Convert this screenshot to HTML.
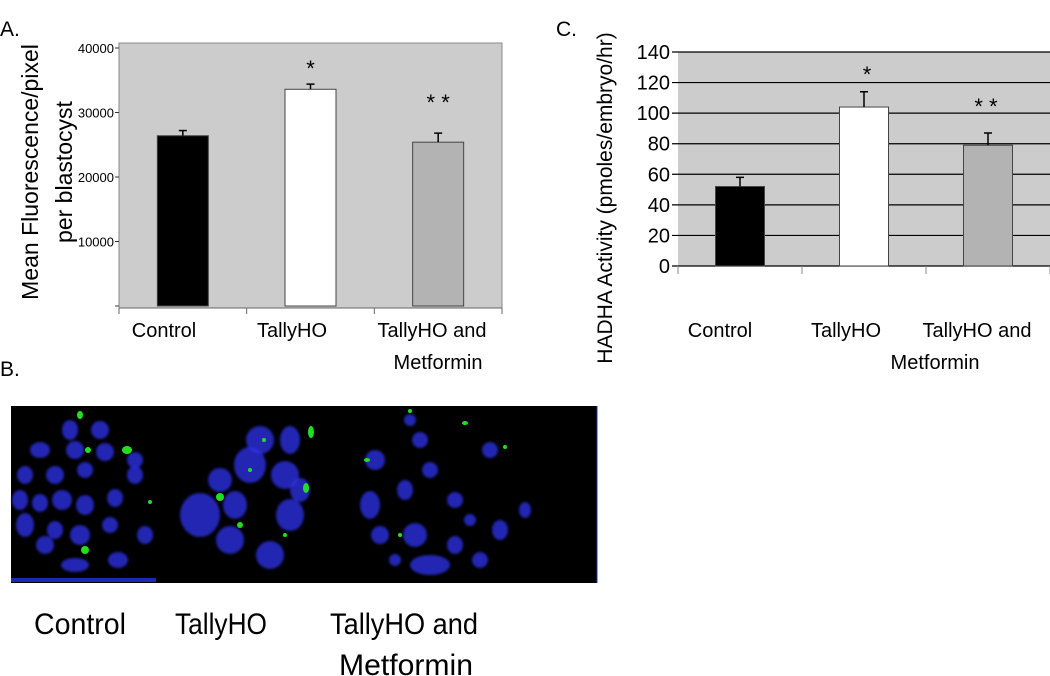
<!DOCTYPE html>
<html><head><meta charset="utf-8">
<style>
html,body{margin:0;padding:0;background:#fff;}
svg{display:block;font-family:"Liberation Sans",sans-serif;}
</style></head>
<body>
<svg id="fig" width="1050" height="676" viewBox="0 0 1050 676">
  <defs><filter id="bl" x="-20%" y="-20%" width="140%" height="140%"><feGaussianBlur stdDeviation="1.2"/></filter></defs>
  <text x="0" y="36" font-size="21">A.</text>
  <text x="556" y="36" font-size="21">C.</text>
  <text x="0" y="376" font-size="21">B.</text>
  <g id="chartA"></g>
  <g id="chartC"></g>
  <g id="micro"></g>
  <text x="80" y="634" font-size="30" text-anchor="middle" textLength="92" lengthAdjust="spacingAndGlyphs">Control</text>
  <text x="221" y="634" font-size="30" text-anchor="middle" textLength="92" lengthAdjust="spacingAndGlyphs">TallyHO</text>
  <text x="404" y="634" font-size="30" text-anchor="middle" textLength="148" lengthAdjust="spacingAndGlyphs">TallyHO and</text>
  <text x="406" y="675" font-size="30" text-anchor="middle" textLength="134" lengthAdjust="spacingAndGlyphs">Metformin</text>
</svg>
<script>
const NS="http://www.w3.org/2000/svg";
function mk(parent,tag,attrs,text){const e=document.createElementNS(NS,tag);for(const k in attrs)e.setAttribute(k,attrs[k]);if(text!==undefined)e.textContent=text;parent.appendChild(e);return e;}

// ---- Chart A data ----
const catsA=["Control","TallyHO","TallyHO and|Metformin"];
const valsA=[26400,33600,25400];
const errA=[800,800,1400];
const starsA=["","*","**"];
const ticksA=[10000,20000,30000,40000];
const fillsA=["#000000","#ffffff","#b3b3b3"];

// ---- Chart C data ----
const catsC=["Control","TallyHO","TallyHO and|Metformin"];
const valsC=[52,104,79];
const errC=[6,10,8];
const starsC=["","*","**"];
const ticksC=[0,20,40,60,80,100,120,140];
const fillsC=["#000000","#ffffff","#b3b3b3"];

// Chart A
(function(){
  const g=document.getElementById('chartA');
  const L=119,R=502,T=43,B=306;
  const sy=v=>B-v*(258/40000);
  const bg=mk(g,'rect',{x:L,y:T,width:R-L,height:B-T+2,fill:'#cccccc',stroke:'#888',"stroke-width":1});
  
  mk(g,'line',{x1:L-4,y1:B,x2:L,y2:B,stroke:'#333'});
  mk(g,'line',{x1:L,y1:B+2,x2:R,y2:B+2,stroke:'#666'});
  ticksA.forEach(t=>{
    const yy=sy(t);
    mk(g,'line',{x1:L-4,y1:yy,x2:L,y2:yy,stroke:'#333'});
    const tl=mk(g,'text',{x:L-5,y:yy+5,"font-size":13,"text-anchor":"end"},String(t));
    
  });
  const bw=(R-L)/catsA.length;
  for(let i=0;i<=catsA.length;i++) mk(g,'line',{x1:L+i*bw,y1:B+2,x2:L+i*bw,y2:B+8,stroke:'#666'});
  const labX=[164,292,432];
  catsA.forEach((c,i)=>{
    const cx=L+bw*(i+0.5), w=51;
    const r=mk(g,'rect',{x:cx-w/2,y:sy(valsA[i]),width:w,height:B-sy(valsA[i]),fill:fillsA[i],stroke:'#444',"stroke-width":1});
    
    const ye=sy(valsA[i]+errA[i]);
    mk(g,'line',{x1:cx,y1:sy(valsA[i]),x2:cx,y2:ye,stroke:'#000',"stroke-width":1.5});
    mk(g,'line',{x1:cx-4,y1:ye,x2:cx+4,y2:ye,stroke:'#000',"stroke-width":1.5});
    if(starsA[i]){const s=mk(g,'text',{x:cx,y:ye-(i==1?8:23),"font-size":22,"text-anchor":"middle"},starsA[i].split('').join(' '));}
    c.split('|').forEach((ln,k)=>{const t=mk(g,'text',{x:labX[i]+(k?6:0),y:337+k*32,"font-size":20,"text-anchor":"middle"},ln);});
  });
  const t1=mk(g,'text',{transform:'translate(38,172) rotate(-90)',"font-size":23,"text-anchor":"middle"},"Mean Fluorescence/pixel");
  
  const t2=mk(g,'text',{transform:'translate(72,172) rotate(-90)',"font-size":23,"text-anchor":"middle"},"per blastocyst");
  
})();

// Chart C
(function(){
  const g=document.getElementById('chartC');
  const L=678,R=1050,T=52,B=266;
  const sy=v=>B-v*((B-T)/140);
  const bg=mk(g,'rect',{x:L,y:T,width:R-L,height:B-T,fill:'#cccccc'});
  
  ticksC.forEach(t=>{
    const yy=sy(t);
    mk(g,'line',{x1:L-6,y1:yy,x2:R,y2:yy,stroke:'#000',"stroke-width":1.2});
    const tl=mk(g,'text',{x:L-8,y:yy+7,"font-size":20,"text-anchor":"end"},String(t));
    
  });
  const bw=(R-L)/catsC.length;
  for(let i=0;i<=catsC.length;i++) mk(g,'line',{x1:L+i*bw,y1:B,x2:L+i*bw,y2:B+8,stroke:'#888'});
  catsC.forEach((c,i)=>{
    const cx=L+bw*(i+0.5), w=49;
    const r=mk(g,'rect',{x:cx-w/2,y:sy(valsC[i]),width:w,height:B-sy(valsC[i]),fill:fillsC[i],stroke:'#444',"stroke-width":1});
    
    const ye=sy(valsC[i]+errC[i]);
    mk(g,'line',{x1:cx,y1:sy(valsC[i]),x2:cx,y2:ye,stroke:'#000',"stroke-width":1.5});
    mk(g,'line',{x1:cx-4,y1:ye,x2:cx+4,y2:ye,stroke:'#000',"stroke-width":1.5});
    if(starsC[i]){const s=mk(g,'text',{x:cx+(i==2?-2:3),y:i==1?82:114,"font-size":22,"text-anchor":"middle"},starsC[i].split('').join(' '));}
  });
  [["Control",720,337],["TallyHO",846,337],["TallyHO and",977,337],["Metformin",935,369]].forEach(a=>{
    const t=mk(g,'text',{x:a[1],y:a[2],"font-size":20,"text-anchor":"middle"},a[0]);
    
  });
  const tt=mk(g,'text',{transform:'translate(612,198) rotate(-90)',"font-size":21,"text-anchor":"middle"},"HADHA Activity (pmoles/embryo/hr)");
  
})();

// Microscopy (decorative)
(function(){
  const g=document.getElementById('micro');
  const r=mk(g,'rect',{x:11,y:406,width:586,height:177,fill:'#000'});
  
  mk(g,'line',{x1:597,y1:406,x2:597,y2:583,stroke:'#2233aa'});
  const cells=mk(g,'g',{filter:'url(#bl)'});
  const blues=[[70,430,8,10],[100,430,9,9],[40,450,10,8],[75,450,9,9],[105,452,9,9],[135,460,8,8],[25,475,8,9],[55,475,9,9],[85,470,8,8],[135,475,8,9],[20,500,8,10],[40,503,8,9],[62,500,10,10],[85,505,9,10],[115,498,8,9],[25,525,9,12],[55,530,8,9],[80,535,10,10],[110,525,8,8],[145,535,8,9],[45,545,9,9],[75,565,14,7],[118,560,10,8],
    [260,440,14,14],[290,440,10,14],[250,465,16,18],[285,475,14,14],[220,480,12,12],[235,505,12,14],[290,515,14,16],[200,515,20,22],[230,540,14,14],[270,555,14,14],[300,490,10,12],
    [410,420,6,6],[420,440,8,8],[375,460,10,10],[430,470,8,8],[405,490,8,10],[370,505,10,14],[455,500,8,8],[380,535,9,9],[415,535,12,12],[455,545,8,9],[430,565,20,10],[480,560,8,8],[500,530,8,10],[490,450,8,8],[525,510,6,8],[395,560,6,6],[470,520,6,6]];
  blues.forEach(b=>mk(cells,'ellipse',{cx:b[0],cy:b[1],rx:b[2],ry:b[3],fill:'#2a2ee0',opacity:0.8}));
  const greens=[[80,415,3,4],[127,450,5,4],[88,450,3,3],[150,502,2,2],[85,550,4,4],[220,497,4,4],[311,432,3,6],[306,488,3,5],[264,440,2,2],[240,525,3,3],[285,535,2,2],[410,411,2,2],[465,423,3,2],[367,460,3,2],[505,447,2,2],[400,535,2,2],[250,470,2,2]];
  greens.forEach(b=>mk(g,'ellipse',{cx:b[0],cy:b[1],rx:b[2],ry:b[3],fill:'#22dd22'}));
  mk(g,'rect',{x:11,y:578,width:145,height:4,fill:'#1a2ab0'});
})();
</script>
</body></html>
